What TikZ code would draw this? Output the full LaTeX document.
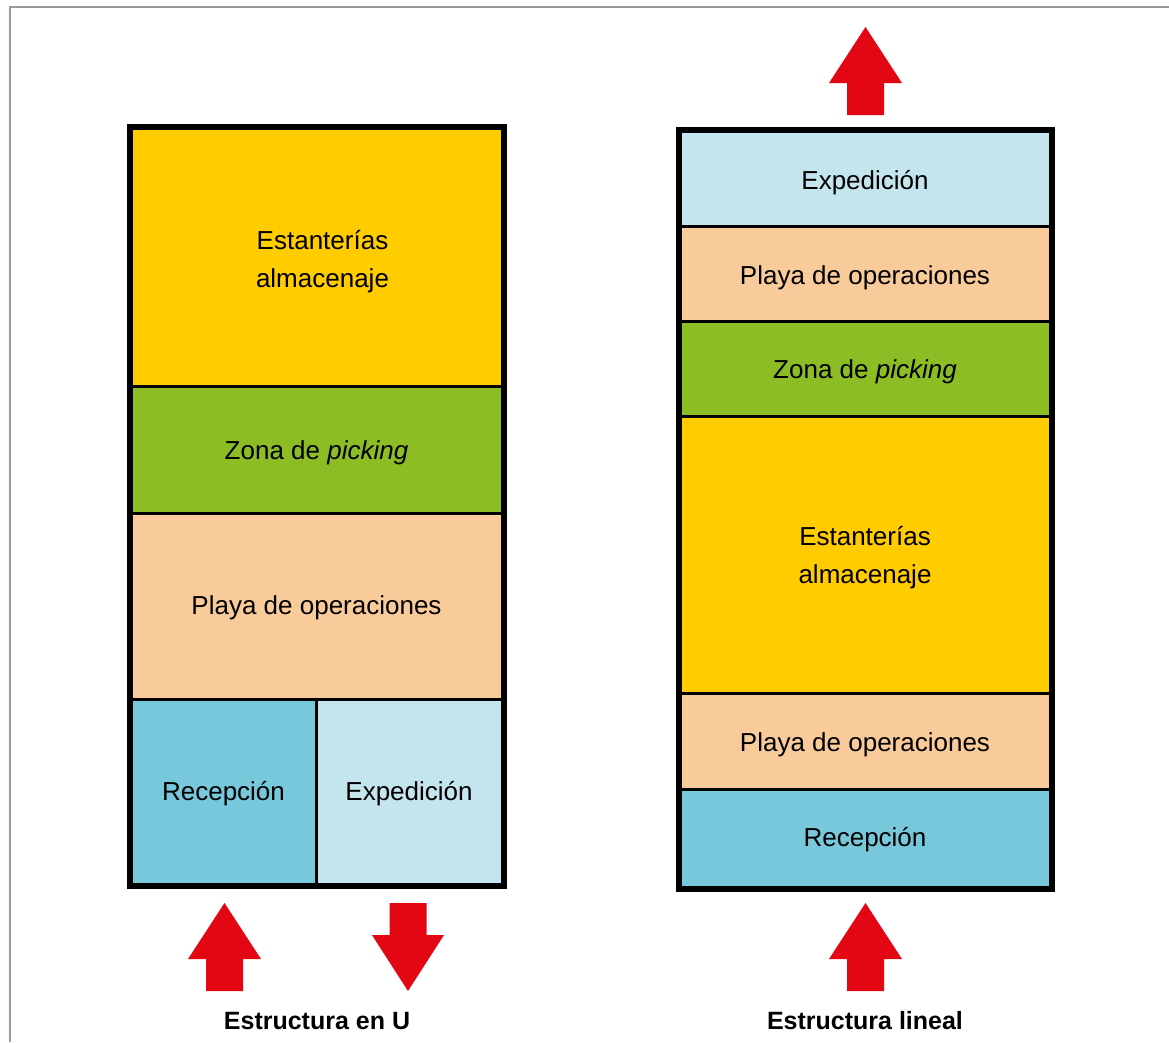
\documentclass[tikz,border=0pt]{standalone}
\usepackage{fontspec}
\setmainfont{Liberation Sans}
\definecolor{cYellow}{HTML}{FFCC00}
\definecolor{cGreen}{HTML}{8CBD24}
\definecolor{cPeach}{HTML}{F9CB9A}
\definecolor{cTeal}{HTML}{76C8DA}
\definecolor{cLight}{HTML}{C4E4EE}
\definecolor{cRed}{HTML}{E30613}
\definecolor{cFrame}{HTML}{9A9A9A}
\begin{document}
\begin{tikzpicture}[x=1pt,y=-1pt,
  cell/.style={draw=black,line width=3pt,rectangle,inner sep=0pt},
  lbl/.style={align=center,inner sep=0pt,font=\fontsize{26}{38}\selectfont},
  outer/.style={draw=black,line width=6pt},
  redarrow/.style={fill=cRed},
  caption/.style={font=\fontsize{25}{28}\selectfont\bfseries,inner sep=0pt}]
\useasboundingbox (0,0) rectangle (1169,1042);
\fill[white] (0,0) rectangle (1169,1042);
\draw[cFrame,line width=1.6pt] (10,1042) -- (10,7) -- (1169,7);

% ---- Left: Estructura en U
\node[cell,fill=cYellow,minimum width=371pt,minimum height=258.5pt] (LEst) at (316.5,257.25) {};
\node[cell,fill=cGreen,minimum width=371pt,minimum height=126.5pt] (LZona) at (316.5,449.75) {};
\node[cell,fill=cPeach,minimum width=371pt,minimum height=186pt] (LPlaya) at (316.5,606) {};
\node[cell,fill=cTeal,minimum width=185pt,minimum height=185pt] (LRec) at (223.5,791.5) {};
\node[cell,fill=cLight,minimum width=186pt,minimum height=185pt] (LExp) at (409,791.5) {};
\draw[outer] (LEst.north west) rectangle (LExp.south east);

\node[lbl] (LEstT) at ([xshift=6pt,yshift=-4pt]LEst.center) {Estanterías\\almacenaje};
\node[lbl] (LZonaT) at ([yshift=-3pt]LZona.center) {Zona de \textit{picking}};
\node[lbl] (LPlayaT) at ([yshift=-2pt]LPlaya.center) {Playa de operaciones};
\node[lbl] (LRecT) at ([yshift=-2pt]LRec.center) {Recepción};
\node[lbl] (LExpT) at ([yshift=-2pt]LExp.center) {Expedición};

\coordinate (LInTip) at (224.5,903);
\fill[redarrow] (LInTip) -- ++(36.5,56) -- ++(-18,0) -- ++(0,32) -- ++(-37,0) -- ++(0,-32) -- ++(-18,0) -- cycle;
\coordinate (LOutTip) at (408,991);
\fill[redarrow] (LOutTip) -- ++(36,-56) -- ++(-17.5,0) -- ++(0,-32) -- ++(-37,0) -- ++(0,32) -- ++(-17.5,0) -- cycle;

\node[caption] (LCap) at (317,1021) {Estructura en U};

% ---- Right: Estructura lineal
\node[cell,fill=cLight,minimum width=370pt,minimum height=95.5pt] (RExp) at (865,178.75) {};
\node[cell,fill=cPeach,minimum width=370pt,minimum height=95pt] (RPlayaA) at (865,274) {};
\node[cell,fill=cGreen,minimum width=370pt,minimum height=95pt] (RZona) at (865,369) {};
\node[cell,fill=cYellow,minimum width=370pt,minimum height=277pt] (REst) at (865,555) {};
\node[cell,fill=cPeach,minimum width=370pt,minimum height=95.5pt] (RPlayaB) at (865,741.25) {};
\node[cell,fill=cTeal,minimum width=370pt,minimum height=98pt] (RRec) at (865,838) {};
\draw[outer] (RExp.north west) rectangle (RRec.south east);

\node[lbl] (RExpT) at ([yshift=-4pt]RExp.center) {Expedición};
\node[lbl] (RPlayaAT) at ([yshift=-4pt]RPlayaA.center) {Playa de operaciones};
\node[lbl] (RZonaT) at ([yshift=-3pt]RZona.center) {Zona de \textit{picking}};
\node[lbl] (REstT) at ([yshift=-3pt]REst.center) {Estanterías\\almacenaje};
\node[lbl] (RPlayaBT) at ([yshift=-4pt]RPlayaB.center) {Playa de operaciones};
\node[lbl] (RRecT) at ([yshift=-2pt]RRec.center) {Recepción};

\coordinate (ROutTip) at (865.5,27);
\fill[redarrow] (ROutTip) -- ++(36.5,56) -- ++(-18,0) -- ++(0,32) -- ++(-37,0) -- ++(0,-32) -- ++(-18,0) -- cycle;
\coordinate (RInTip) at (865.5,903);
\fill[redarrow] (RInTip) -- ++(36.5,56) -- ++(-18,0) -- ++(0,32) -- ++(-37,0) -- ++(0,-32) -- ++(-18,0) -- cycle;

\node[caption] (RCap) at (865,1021) {Estructura lineal};
\end{tikzpicture}
\end{document}
